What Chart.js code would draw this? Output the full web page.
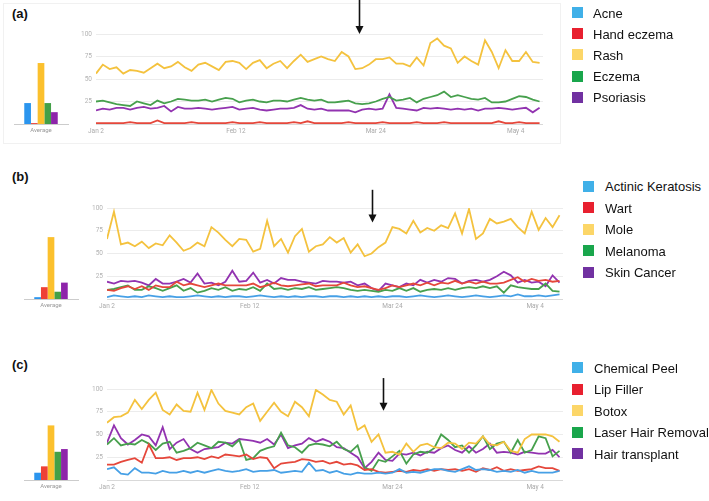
<!DOCTYPE html>
<html>
<head>
<meta charset="utf-8">
<script src="https://cdn.jsdelivr.net/npm/chart.js@4.4.1/dist/chart.umd.min.js"></script>
<style>
body {margin: 0; background: #fff; width: 709px; height: 501px; position: relative; overflow: hidden; font-family: "Liberation Sans", Arial, sans-serif;}
.box {position: absolute;}
.card {position: absolute; left: 3px; top: 3px; width: 556px; height: 139px; border: 1px solid #f1f1f1;}
.plabel {position: absolute; left: 12px; font-weight: bold; font-size: 13px; line-height: 16px; color: #111;}
.key {position: absolute; height: 20px; display: flex; align-items: center; font-size: 13px; color: #111; white-space: nowrap;}
.key i {position: absolute; width: 11px; height: 11px; top: 4px;}
</style>
</head>
<body>
<div class="card"></div>
<div class="plabel" style="top:6px">(a)</div>
<div class="plabel" style="top:169px">(b)</div>
<div class="plabel" style="top:357px">(c)</div>

<div class="box" style="left:0;top:20px"><canvas id="bar-a" width="80" height="120"></canvas></div>
<div class="box" style="left:60px;top:0"><canvas id="line-a" width="500" height="140"></canvas></div>
<div class="box" style="left:0;top:190px"><canvas id="bar-b" width="90" height="125"></canvas></div>
<div class="box" style="left:60px;top:165px"><canvas id="line-b" width="520" height="150"></canvas></div>
<div class="box" style="left:0;top:370px"><canvas id="bar-c" width="90" height="126"></canvas></div>
<div class="box" style="left:60px;top:345px"><canvas id="line-c" width="520" height="151"></canvas></div>
<div id="keys"></div>

<script>
// every 2nd day from Jan 2
const days = [0,2,4,6,8,10,12,14,16,18,20,22,24,26,28,30,32,34,36,38,40,42,44,46,48,50,52,54,56,58,60,62,64,
	66,68,70,72,74,76,78,80,82,84,86,88,90,92,94,96,98,100,102,104,106,108,110,112,114,116,118,120,122,124,126,128,130];
const tick_days = [0, 41, 82, 123];
const tick_labels = ["Jan 2", "Feb 12", "Mar 24", "May 4"];

// (a)
const names_a = ["Acne", "Hand eczema", "Rash", "Eczema", "Psoriasis"];
const acne = [];
const hand_eczema = [1,1,1,1,1,2,1,1,1,4,1, 1,1,1,2,1,1,1,1,1,2,1, 1,1,2,1,1,1,1,2,1,3,1,
	1,1,1,1,2,1,1,1,1,2,1, 1,1,1,2,1,1,1,2,1,1,1, 1,1,1,1,3,1,1,2,1,1,1];
const rash = [56,66,61,63,56,60,59,57,62,67,62,64,69,63,59,66,68,64,60,69,70,68,61,68,71,62,67,70,62,70,77,69,72,
	75,72,70,80,75,61,62,66,72,72,74,67,67,64,74,65,90,95,87,84,68,75,70,66,93,80,62,82,70,70,80,69,68];
const eczema = [25,26,24,22,21,20,25,23,21,26,23,25,28,27,26,26,27,25,27,29,28,24,26,27,25,24,26,26,25,27,29,27,26,
	27,24,24,25,26,23,22,23,25,28,30,26,27,29,24,28,30,32,36,30,32,30,28,27,29,24,24,25,28,31,30,27,25];
const psoriasis = [15,17,16,18,18,16,18,19,17,18,20,14,19,17,17,18,17,16,17,18,19,16,17,18,16,15,16,17,17,18,21,17,16,
	17,15,15,15,15,13,16,17,16,17,33,18,17,16,15,18,17,18,17,16,17,16,17,15,17,17,18,17,16,17,18,13,18];
const avg_a = [23, 1, 67, 23, 13];

// (b)
const names_b = ["Actinic Keratosis", "Wart", "Mole", "Melanoma", "Skin Cancer"];
const actinic = [2,4,3,2,3,2,4,3,2,3,2,2,3,4,3,2,3,2,3,3,2,3,4,3,2,3,2,3,2,3,3,2,3,
	3,2,3,2,3,2,3,2,3,3,2,3,4,3,2,3,4,3,2,3,4,3,2,3,4,3,5,3,3,4,3,4,5];
const wart = [10,9,12,14,11,14,10,15,13,13,19,15,17,15,13,15,17,15,15,15,15,17,13,15,18,15,14,15,16,17,14,15,15,
	15,18,15,13,14,12,10,12,15,13,15,17,15,18,15,18,17,20,17,19,17,19,17,17,18,21,24,19,22,20,21,19,20];
const mole = [66,96,60,62,58,63,56,61,59,70,62,53,56,62,58,79,73,65,58,66,65,52,55,86,58,66,51,69,77,52,58,60,68,
	62,67,51,60,47,50,57,62,79,77,72,86,73,78,75,81,78,94,72,99,66,72,88,83,85,88,79,72,96,76,89,79,92];
const melanoma = [10,11,13,15,10,10,14,12,9,12,15,9,12,7,9,12,10,13,9,11,10,13,9,17,11,12,10,12,11,13,10,11,12,
	13,12,10,9,10,9,8,10,9,12,9,12,8,10,11,10,12,10,12,13,12,14,12,14,7,15,13,12,11,11,17,9,8];
const skin_cancer = [19,17,20,19,20,18,15,22,17,17,19,22,18,28,17,18,15,19,31,19,20,29,18,21,17,23,21,21,19,18,17,20,19,
	19,18,19,15,17,12,9,17,15,13,17,15,21,18,21,19,23,22,17,20,21,19,21,25,30,26,18,21,18,19,14,26,18];
const avg_b = [2, 13, 68, 8, 18];

// (c)
const names_c = ["Chemical Peel", "Lip Filler", "Botox", "Laser Hair Removal", "Hair transplant"];
const chemical_peel = [12,14,7,6,13,8,8,7,10,8,8,10,8,10,8,10,12,10,9,10,12,9,10,10,11,8,9,10,9,19,10,11,8,
	10,7,6,8,7,7,8,7,8,12,8,9,8,10,12,12,10,9,12,15,11,12,11,9,10,9,11,8,10,8,8,8,10];
const lip_filler = [17,17,20,22,24,19,39,24,24,25,22,24,24,25,23,26,24,28,27,26,28,23,25,24,13,18,19,20,23,22,20,21,18,
	20,17,18,16,11,12,9,8,9,10,9,11,10,12,10,12,11,12,10,12,9,13,11,14,10,12,10,11,12,15,13,13,10];
const botox = [63,69,70,74,88,78,88,96,77,72,83,76,75,96,77,99,84,76,74,72,80,84,65,75,85,75,70,86,80,70,99,94,88,
	86,72,82,55,60,42,50,30,31,28,40,31,38,40,36,35,41,40,34,41,40,48,39,38,42,32,30,45,50,50,50,48,42];
const laser_hair = [39,46,38,40,39,44,40,33,40,42,30,32,35,41,38,35,42,41,37,44,22,24,32,35,37,52,38,36,30,38,40,39,37,
	42,34,31,38,14,10,22,20,26,32,18,28,31,30,35,50,44,36,38,30,38,48,34,40,42,30,44,30,33,48,46,26,32];
const hair_transplant = [41,60,46,39,44,50,48,38,58,34,41,45,34,30,34,35,36,41,40,45,44,43,41,45,39,50,35,38,40,46,42,45,42,
	36,35,30,25,13,20,30,22,21,29,28,30,27,31,30,35,38,33,30,37,30,34,40,30,31,30,28,31,30,29,29,33,25];
const avg_c = [8, 15, 60, 31, 34];

const line_colors = ["#46a0e6", "#e5473b", "#f4c23e", "#47a04d", "#9233b0"];
const bar_colors = ["#2b95ee", "#ee4136", "#fbc02d", "#43a047", "#8e24aa"];
const key_colors = ["#40b0e8", "#e8202f", "#fcd668", "#19a64c", "#7131a1"];
const tick_font = {family: "Roboto", size: 6.5};

// vertical arrow, given in data units of the line chart
const arrow_plugin = {
	id: "arrow",
	afterDraw(chart, args, opts) {
		const ctx = chart.ctx;
		const px = Math.round(chart.scales.x.getPixelForValue(opts.day)) + 0.5;
		const y0 = chart.scales.y.getPixelForValue(opts.from);
		const y1 = chart.scales.y.getPixelForValue(opts.to);
		ctx.save();
		ctx.strokeStyle = "#111";
		ctx.fillStyle = "#111";
		ctx.lineWidth = 1.6;
		ctx.beginPath();
		ctx.moveTo(px, y0);
		ctx.lineTo(px, y1 - 6);
		ctx.stroke();
		ctx.beginPath();
		ctx.moveTo(px - 4, y1 - 8);
		ctx.lineTo(px + 4, y1 - 8);
		ctx.lineTo(px, y1);
		ctx.closePath();
		ctx.fill();
		ctx.restore();
	}
};

function line_conf(series, pad, arrow) {
	return {type: "line",
		data: {
			datasets: series.map((s, i) => ({
				data: s.map((v, j) => ({x: days[j], y: v})),
				borderColor: line_colors[i],
				borderWidth: 1.8,
				pointRadius: 0,
				tension: 0,
				fill: false
			}))
		},
		options: {
			responsive: false,
			animation: false,
			layout: {padding: {top: pad.top, right: pad.right, left: 0, bottom: 0}},
			plugins: {
				legend: {display: false},
				tooltip: {enabled: false},
				arrow: arrow
			},
			scales: {
				x: {
					type: "linear",
					min: 0,
					max: 131,
					afterBuildTicks: (s) => { s.ticks = tick_days.map(v => ({value: v})); },
					afterFit: (s) => { s.height = pad.xh; },
					ticks: {
						callback: (v) => tick_labels[tick_days.indexOf(v)],
						color: "#aaa",
						font: tick_font,
						padding: 3,
						maxRotation: 0,
						autoSkip: false
					},
					grid: {display: false, drawTicks: false},
					border: {display: false}
				},
				y: {
					min: 0,
					max: 100,
					ticks: {
						stepSize: 25,
						callback: (v) => v === 0 ? "" : v,
						color: "#b3b3b3",
						font: tick_font,
						padding: 4
					},
					afterFit: (s) => { s.width = pad.yw; },
					grid: {
						color: (c) => c.tick && c.tick.value === 0 ? "#d9d9d9" : "#ececec",
						drawTicks: false
					},
					border: {display: false}
				}
			}
		},
		plugins: [arrow_plugin]
	};
}

function bar_conf(values, pad) {
	return {type: "bar",
		data: {
			labels: ["Average"],
			datasets: values.map((v, i) => ({
				data: [v],
				backgroundColor: bar_colors[i],
				categoryPercentage: 0.62,
				barPercentage: 1
			}))
		},
		options: {
			responsive: false,
			animation: false,
			layout: {padding: {left: pad.left, right: pad.right, top: pad.top, bottom: 0}},
			plugins: {legend: {display: false}, tooltip: {enabled: false}},
			scales: {
				x: {
					grid: {display: false, drawTicks: false},
					border: {display: true, color: "#cccccc"},
					afterFit: (s) => { s.height = 16; },
					ticks: {color: "#999", font: {family: "Roboto", size: 6}, padding: 3}
				},
				y: {display: false, min: 0, max: 100}
			}
		}
	};
}

new Chart(document.getElementById("bar-a"), bar_conf(avg_a, {left: 14, right: 12, top: 13}));
new Chart(document.getElementById("bar-b"), bar_conf(avg_b, {left: 24, right: 12, top: 18}));
new Chart(document.getElementById("bar-c"), bar_conf(avg_c, {left: 24, right: 12, top: 19}));

new Chart(document.getElementById("line-a"), line_conf(
	[acne, hand_eczema, rash, eczema, psoriasis],
	{top: 34, right: 17, yw: 36, xh: 16},
	{day: 77, from: 138, to: 100}));
new Chart(document.getElementById("line-b"), line_conf(
	[actinic, wart, mole, melanoma, skin_cancer],
	{top: 43, right: 17, yw: 47, xh: 16},
	{day: 76, from: 120, to: 84}));
new Chart(document.getElementById("line-c"), line_conf(
	[chemical_peel, lip_filler, botox, laser_hair, hair_transplant],
	{top: 44, right: 17, yw: 47, xh: 16},
	{day: 79.3, from: 112, to: 76}));

function legend(names, sq_left, txt_left, top, step) {
	const keys = document.getElementById("keys");
	names.forEach((n, i) => {
		const row = document.createElement("div");
		row.className = "key";
		row.style.left = sq_left + "px";
		row.style.top = (top + i * step - 10) + "px";
		row.style.paddingLeft = (txt_left - sq_left) + "px";
		const sq = document.createElement("i");
		sq.style.left = "0";
		sq.style.background = key_colors[i];
		row.appendChild(sq);
		row.appendChild(document.createTextNode(n));
		keys.appendChild(row);
	});
}
legend(names_a, 572, 593, 13, 21.2);
legend(names_b, 583, 605, 186.5, 21.6);
legend(names_c, 572, 594, 368, 21.6);
</script>
</body>
</html>
